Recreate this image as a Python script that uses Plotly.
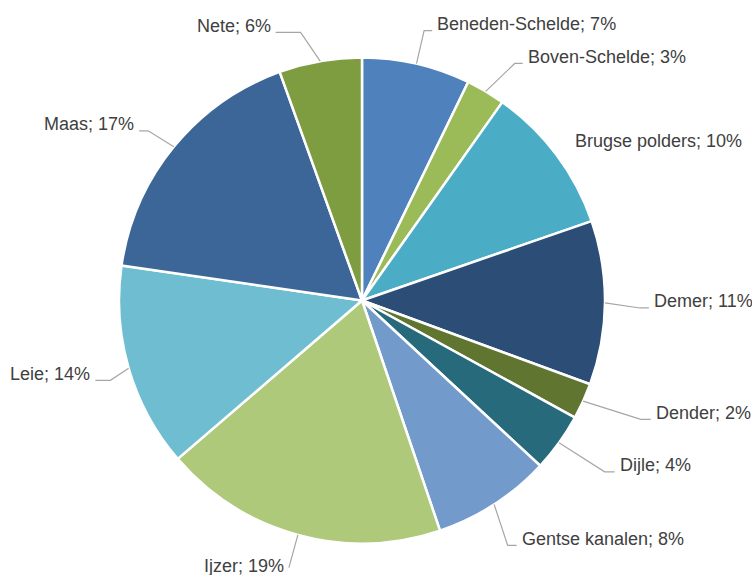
import math
import plotly.graph_objects as go

# ---- data ----
labels = ["Beneden-Schelde", "Boven-Schelde", "Brugse polders", "Demer", "Dender",
          "Dijle", "Gentse kanalen", "Ijzer", "Leie", "Maas", "Nete"]
shares = [7.2, 2.6, 9.9, 10.9, 2.4, 3.9, 7.9, 18.9, 13.6, 17.2, 5.5]
colors = ["#4F81BD", "#9BBB59", "#4BACC6", "#2C4D75", "#5F7530", "#276A7C",
          "#729ACA", "#AFC97A", "#6FBDD1", "#3C6698", "#7E9C40"]

# ---- layout styling (label placement) ----
W, H = 752, 575
CX, CY, R = 362, 300.5, 243
label_r = [277, 282, 254, 278, 303, 297, 285, 277, 264, 273, 275]
label_dang = [0, 2.2, 0, 1, -1.4, -0.6, 2.2, 0, -1.4, -0.8, -3]
tail = [8, 8, 5, 9, 10, 10, 9, 0, 15, 9, 25]
draw_line = [True, True, False, True, True, True, True, True, True, True, True]
FONT = "Liberation Sans, Arial, sans-serif"
TXT = "#404040"
LINE = "#A6A6A6"

def px(x):
    return x / W

def py(y):
    return (H - y) / H

fig = go.Figure(go.Pie(
    labels=labels, values=shares, sort=False, direction="clockwise", rotation=0,
    marker=dict(colors=colors, line=dict(color="white", width=2.5)),
    textinfo="none", hoverinfo="label+percent", showlegend=False,
    domain=dict(x=[(CX - R) / W, (CX + R) / W], y=[(H - CY - R) / H, (H - CY + R) / H]),
))

total = sum(shares)
cum = 0.0
annotations = []
shapes = []
for i, (lab, v) in enumerate(zip(labels, shares)):
    mid = (cum + v / 2) / total * 2 * math.pi
    cum += v
    s, c = math.sin(mid), math.cos(mid)
    x0, y0 = CX + R * s, CY - R * c
    a2 = mid + math.radians(label_dang[i])
    ex, ey = CX + label_r[i] * math.sin(a2), CY - label_r[i] * math.cos(a2)
    right = s > 0
    tx = ex + tail[i] if right else ex - tail[i]
    if draw_line[i]:
        shapes.append(dict(type="path", xref="paper", yref="paper",
                           path=f"M {px(x0)},{py(y0)} L {px(ex)},{py(ey)} L {px(tx)},{py(ey)}",
                           line=dict(color=LINE, width=1.2)))
    pct = int(math.floor(v / total * 100 + 0.5))
    ty = ey - 2 if tail[i] == 0 else ey - 6.5
    annotations.append(dict(
        x=px(tx + (3 if right else -3)), y=py(ty), xref="paper", yref="paper",
        text=f"{lab}; {pct}%", showarrow=False,
        xanchor="left" if right else "right", yanchor="middle",
        font=dict(family=FONT, size=18, color=TXT),
    ))

fig.update_layout(
    width=W, height=H, margin=dict(l=0, r=0, t=0, b=0),
    paper_bgcolor="white", plot_bgcolor="white",
    annotations=annotations, shapes=shapes,
)
fig.write_html("out.html", config={"displayModeBar": False},
               post_script="document.body.style.margin='0';document.body.style.overflow='hidden';")
